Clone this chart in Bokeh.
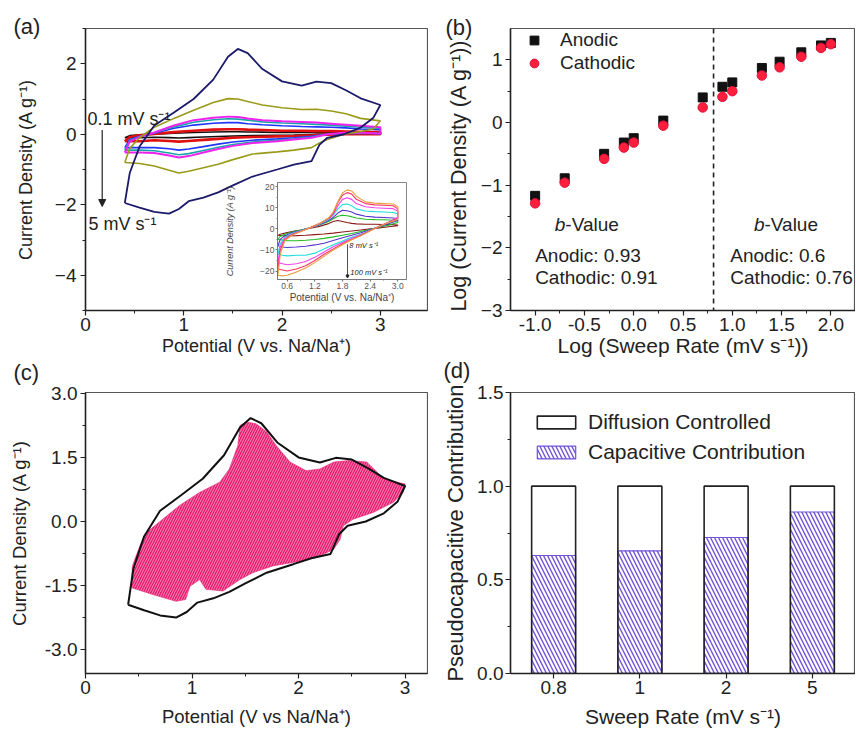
from bokeh.plotting import figure
from bokeh.layouts import row, column
from bokeh.models import (Range1d, FactorRange, FixedTicker, PrintfTickFormatter,
                          Label, Span, Arrow, NormalHead, Legend, LegendItem)
from bokeh.embed import file_html
from bokeh.resources import INLINE

FONT = "Liberation Sans"
INK = "#222222"

# ---------------- (a) CV curves, 0.1 - 5 mV/s ----------------
cv_up_v = [0.4, 0.45, 0.55, 0.7, 0.9, 1.1, 1.3, 1.45, 1.55, 1.65, 1.8, 2.0, 2.2, 2.35, 2.5, 2.65, 2.8, 3.0]
cv_dn_v = [3.0, 2.93, 2.8, 2.63, 2.46, 2.38, 2.3, 2.12, 1.95, 1.7, 1.5, 1.35, 1.2, 1.05, 0.95, 0.85, 0.7, 0.55, 0.4]

cv5_up = [-1.95, -1.1, -0.35, 0.25, 0.62, 1.0, 1.55, 2.2, 2.42, 2.3, 1.85, 1.5, 1.38, 1.49, 1.45, 1.25, 1.02, 0.83]
cv5_dn = [0.83, 0.47, 0.19, 0.0, -0.1, -0.3, -0.76, -0.86, -1.0, -1.2, -1.45, -1.65, -1.8, -1.9, -2.12, -2.25, -2.2, -2.08, -1.95]
cv2_up = [-0.8, -0.4, -0.1, 0.2, 0.45, 0.68, 0.9, 1.01, 1.0, 0.93, 0.83, 0.75, 0.7, 0.71, 0.66, 0.58, 0.45, 0.38]
cv2_dn = [0.38, 0.15, 0.08, 0.0, -0.15, -0.25, -0.38, -0.45, -0.5, -0.56, -0.72, -0.85, -0.95, -1.05, -1.1, -1.02, -0.9, -0.83, -0.8]
cv1_up = [-0.52, -0.2, -0.08, 0.05, 0.25, 0.4, 0.47, 0.5, 0.49, 0.45, 0.4, 0.37, 0.35, 0.33, 0.3, 0.27, 0.24, 0.2]
cv1_dn = [0.02, 0.03, 0.04, 0.04, 0.0, -0.05, -0.1, -0.15, -0.2, -0.25, -0.33, -0.42, -0.52, -0.62, -0.66, -0.6, -0.53, -0.52, -0.52]
cv08_up = [-0.45, -0.18, -0.07, 0.04, 0.21, 0.34, 0.41, 0.44, 0.43, 0.4, 0.35, 0.32, 0.3, 0.28, 0.26, 0.23, 0.2, 0.17]
cv08_dn = [0.02, 0.03, 0.03, 0.03, 0.0, -0.04, -0.08, -0.13, -0.17, -0.22, -0.29, -0.37, -0.46, -0.55, -0.58, -0.53, -0.47, -0.45, -0.45]
cv05_up = [-0.38, -0.15, -0.06, 0.03, 0.17, 0.26, 0.31, 0.33, 0.33, 0.3, 0.27, 0.24, 0.22, 0.21, 0.2, 0.18, 0.15, 0.13]
cv05_dn = [0.01, 0.02, 0.02, 0.02, 0.0, -0.03, -0.06, -0.1, -0.13, -0.17, -0.22, -0.28, -0.35, -0.42, -0.45, -0.41, -0.38, -0.38, -0.38]
cv02_up = [-0.2, -0.08, -0.03, 0.01, 0.06, 0.1, 0.13, 0.14, 0.14, 0.13, 0.12, 0.1, 0.1, 0.09, 0.09, 0.08, 0.07, 0.06]
cv02_dn = [0.0, 0.0, 0.0, 0.0, -0.01, -0.02, -0.03, -0.05, -0.06, -0.08, -0.1, -0.13, -0.16, -0.19, -0.21, -0.19, -0.17, -0.2, -0.2]
cv01_up = [-0.1, -0.04, -0.015, 0.0, 0.03, 0.05, 0.065, 0.07, 0.07, 0.065, 0.06, 0.05, 0.05, 0.045, 0.045, 0.04, 0.035, 0.03]
cv01_dn = [0.0, 0.0, 0.0, 0.0, -0.005, -0.01, -0.015, -0.025, -0.03, -0.04, -0.05, -0.065, -0.08, -0.095, -0.105, -0.095, -0.085, -0.1, -0.1]

# ---------------- inset: 8 - 100 mV/s ----------------
ins_up_v = [0.4, 0.45, 0.55, 0.7, 0.9, 1.1, 1.3, 1.5, 1.6, 1.7, 1.8, 1.9, 2.0, 2.1, 2.3, 2.5, 2.7, 2.9, 3.0]
ins_dn_v = [3.0, 2.8, 2.6, 2.4, 2.2, 2.0, 1.8, 1.6, 1.4, 1.2, 1.0, 0.8, 0.6, 0.5, 0.4]
ins_a_up = [-3, -2.5, -2, -1.2, -0.5, 0.3, 1.2, 2.5, 3.5, 4, 3.5, 3, 2.6, 2.4, 2.2, 2.2, 2.1, 2.0, 1.8]
ins_a_dn = [1.5, 1.0, 0.5, 0, -0.5, -1, -1.5, -2, -2.4, -2.7, -3, -3.2, -3.3, -3.2, -3]
ins_b_up = [-5, -3.5, -2.5, -1.5, -0.5, 0.5, 1.8, 3.5, 4.8, 6, 6.5, 6.2, 5.8, 5.2, 4.6, 4.4, 4.3, 4.1, 3.8]
ins_b_dn = [3, 1.8, 0.8, -0.2, -1.2, -2.2, -3, -3.8, -4.5, -5, -5.4, -5.6, -5.6, -5.3, -5]
ins_c_up = [-8, -5, -3.2, -1.8, -0.7, 0.5, 2, 4, 5.5, 7.5, 8.8, 8.6, 8, 7, 6, 5.6, 5.4, 5.2, 4.8]
ins_c_dn = [4, 2.4, 1.0, -0.4, -1.8, -3, -4.2, -5.5, -6.8, -7.6, -8.2, -8.6, -8.8, -8.6, -8]
ins_d_up = [-12, -7, -4, -2.2, -0.8, 0.6, 2.2, 4.5, 6.5, 9.5, 11.5, 11.8, 11, 9.5, 8.5, 8.2, 8, 7.8, 7.2]
ins_d_dn = [5, 3, 1.2, -0.6, -2.5, -4, -5.8, -7.5, -9.5, -11.5, -12.5, -12.5, -12.8, -12.5, -12]
ins_e_up = [-16, -8.5, -4.5, -2.5, -1, 0.6, 2.4, 4.8, 7, 11, 14, 14.8, 14, 12, 10.5, 10, 9.8, 9.6, 8.5]
ins_e_dn = [5.5, 3.2, 1.3, -0.8, -2.8, -4.5, -6.5, -8.5, -11, -13.5, -15.5, -16.5, -17, -16.5, -16]
ins_f_up = [-19, -10, -5, -2.8, -1.1, 0.6, 2.5, 5, 7.5, 12.5, 16, 17.2, 16.5, 14, 12, 11.4, 11.2, 11, 9.5]
ins_f_dn = [5, 3.2, 1.3, -0.9, -3, -5, -7, -9.5, -12, -15, -17.5, -19, -20, -19.5, -19]
ins_g_up = [-22, -12, -5.5, -3, -1.2, 0.6, 2.6, 5.2, 8, 13, 17, 18.5, 18, 15.5, 12.8, 12.2, 12, 11.8, 10.5]
ins_g_dn = [4.5, 3, 1.2, -1, -3.2, -5.2, -7.5, -10, -13, -16, -18.5, -20.5, -22, -22.3, -22]

# ---------------- (b) log i vs log v ----------------
log_rate = [-1.0, -0.7, -0.3, -0.1, 0.0, 0.3, 0.7, 0.9, 1.0, 1.3, 1.48, 1.7, 1.9, 2.0]
log_anodic = [-1.17, -0.89, -0.50, -0.32, -0.25, 0.03, 0.40, 0.57, 0.64, 0.87, 0.97, 1.12, 1.23, 1.27]
log_cathodic = [-1.29, -0.96, -0.58, -0.40, -0.32, -0.05, 0.24, 0.41, 0.50, 0.75, 0.88, 1.05, 1.19, 1.25]
split_log_rate = 0.81

# ---------------- (c) capacitive region at 5 mV/s ----------------
cap_v = [0.43, 0.44, 0.51, 0.57, 0.69, 0.88, 1.07, 1.26, 1.35, 1.43, 1.45, 1.51, 1.6, 1.70, 1.79,
         1.92, 2.07, 2.20, 2.33, 2.48, 2.64, 2.80, 2.92, 3.0, 2.98, 2.89, 2.70, 2.51, 2.42, 2.39,
         2.33, 2.20, 2.01, 1.76, 1.57, 1.45, 1.29, 1.13, 1.07, 0.98, 0.94, 0.85, 0.63, 0.44]
cap_i = [-1.52, -1.04, -0.57, -0.26, -0.02, 0.37, 0.68, 0.92, 1.23, 1.78, 2.25, 2.33, 2.29, 2.10, 1.78,
         1.39, 1.19, 1.23, 1.39, 1.43, 1.39, 1.0, 0.92, 0.88, 0.68, 0.45, 0.21, 0.05, -0.10, -0.42,
         -0.65, -0.81, -0.93, -1.04, -1.20, -1.36, -1.63, -1.59, -1.36, -1.52, -1.83, -1.87, -1.71, -1.56]

# ---------------- (d) contributions ----------------
rates = ["0.8", "1", "2", "5"]
capacitive = [0.63, 0.655, 0.726, 0.862]
total = [1.0, 1.0, 1.0, 1.0]

# panel tags, page pixels
tag_text = ["(a)", "(b)", "(c)", "(d)"]
tag_x = [13, 445, 13, 443]
tag_y = [26, 27, 372, 370]


def make_fig(width, height, x_range, y_range, left, right, top, bottom, **kw):
    p = figure(width=width, height=height, x_range=x_range, y_range=y_range,
               output_backend="svg", toolbar_location=None,
               min_border_left=left, min_border_right=right,
               min_border_top=top, min_border_bottom=bottom, **kw)
    p.grid.visible = False
    p.outline_line_color = "#555555"
    p.outline_line_width = 1.2
    p.border_fill_color = "white"
    p.background_fill_color = "white"
    for ax in p.axis:
        ax.axis_line_color = INK
        ax.axis_line_width = 1.5
        ax.major_tick_line_color = INK
        ax.minor_tick_line_color = INK
        ax.major_tick_line_width = 1.2
        ax.major_tick_out = 5
        ax.major_tick_in = 0
        ax.minor_tick_out = 3
        ax.minor_tick_in = 0
        ax.major_label_standoff = 2
        ax.major_label_text_font = FONT
        ax.major_label_text_font_size = "19px"
        ax.major_label_text_color = INK
        ax.axis_label_text_font = FONT
        ax.axis_label_text_font_style = "normal"
        ax.axis_label_text_color = INK
    return p


def tag(p, text, x, y, size="22px", **kw):
    p.add_layout(Label(x=x, y=y, text=text, text_font=FONT, text_font_size=size,
                       text_baseline="middle", text_color=INK, **kw))


# ======== (a) ========
pa = make_fig(428, 362, Range1d(0, 3.48), Range1d(-5, 3), 85, 1, 28, 52)
pa.xaxis.ticker = FixedTicker(ticks=[0, 1, 2, 3], minor_ticks=[0.5, 1.5, 2.5, 3.5])
pa.yaxis.ticker = FixedTicker(ticks=[-4, -2, 0, 2], minor_ticks=[-5, -3, -1, 1, 3])
pa.xaxis.axis_label = "Potential (V vs. Na/Na\u207a)"
pa.yaxis.axis_label = "Current Density (A g\u207b\u00b9)"
pa.xaxis.axis_label_text_font_size = "18px"
pa.yaxis.axis_label_text_font_size = "18px"
pa.xaxis.axis_label_standoff = 2
pa.yaxis.axis_label_standoff = 16
pa.yaxis.major_label_standoff = 4

cv_curves = [
    (cv01_up, cv01_dn, "#111111", 1.6),
    (cv02_up, cv02_dn, "#e01010", 2.6),
    (cv05_up, cv05_dn, "#1f35ff", 1.6),
    (cv08_up, cv08_dn, "#1aa6a6", 1.6),
    (cv1_up, cv1_dn, "#ee22ee", 2.0),
    (cv2_up, cv2_dn, "#9a9a18", 1.6),
    (cv5_up, cv5_dn, "#1c1a6a", 1.8),
]
for up, dn, col, w in cv_curves:
    pa.line(cv_up_v + cv_dn_v, up + dn, line_color=col, line_width=w)

tag(pa, "0.1 mV s\u207b\u00b9", 0.02, 0.43, size="18px")
tag(pa, "5 mV s\u207b\u00b9", 0.03, -2.54, size="18px")
pa.add_layout(Arrow(x_start=0.17, y_start=0.12, x_end=0.17, y_end=-2.05,
                    line_color=INK, line_width=1.2,
                    end=NormalHead(size=7, fill_color=INK, line_color=INK)))

# ======== inset ========
pi = make_fig(188, 126, Range1d(0.39, 3.19), Range1d(-24, 22), 50, 4, 3, 23)
pi.border_fill_color = None
pi.outline_line_color = "#888888"
pi.outline_line_width = 1
pi.xaxis.ticker = FixedTicker(ticks=[0.6, 1.2, 1.8, 2.4, 3.0], minor_ticks=[0.9, 1.5, 2.1, 2.7])
pi.yaxis.ticker = FixedTicker(ticks=[-20, -10, 0, 10, 20], minor_ticks=[-15, -5, 5, 15])
pi.xaxis.formatter = PrintfTickFormatter(format="%.1f")
for ax in pi.axis:
    ax.axis_line_color = "#777777"
    ax.axis_line_width = 1
    ax.major_tick_line_color = "#777777"
    ax.minor_tick_line_color = "#777777"
    ax.major_tick_out = 2
    ax.minor_tick_out = 1
    ax.major_label_standoff = 1
    ax.major_label_text_font_size = "8.5px"
    ax.major_label_text_color = "#555555"
    ax.axis_label_text_font_size = "10px"
    ax.axis_label_text_color = "#444444"
pi.xaxis.axis_label = "Potential (V vs. Na/Na\u207a)"
pi.yaxis.axis_label = "Current Density (A g\u207b\u00b9)"
pi.yaxis.axis_label_text_font_style = "italic"
pi.yaxis.axis_label_text_font_size = "9px"
pi.xaxis.axis_label_standoff = 0
pi.yaxis.axis_label_standoff = 22

ins_curves = [
    (ins_a_up, ins_a_dn, "#8b1a1a"),
    (ins_b_up, ins_b_dn, "#22bb22"),
    (ins_c_up, ins_c_dn, "#5533cc"),
    (ins_d_up, ins_d_dn, "#22dddd"),
    (ins_e_up, ins_e_dn, "#ee44ee"),
    (ins_f_up, ins_f_dn, "#ff3366"),
    (ins_g_up, ins_g_dn, "#e8a040"),
]
for up, dn, col in ins_curves:
    pi.line(ins_up_v + ins_dn_v, up + dn, line_color=col, line_width=1.1)
pi.add_layout(Arrow(x_start=1.91, y_start=-7.3, x_end=1.91, y_end=-23.3,
                    line_color=INK, line_width=0.8,
                    end=NormalHead(size=3, fill_color=INK, line_color=INK)))
tag(pi, "8 mV s\u207b\u00b9", 1.95, -8.1, size="7.5px", text_font_style="italic")
tag(pi, "100 mV s\u207b\u00b9", 1.97, -20.8, size="7.5px", text_font_style="italic")
pi.margin = (-183, 0, 57, 222)

# ======== (b) ========
pb = make_fig(427, 362, Range1d(-1.25, 2.25), Range1d(-3, 1.5), 82, 0, 28, 52)
pb.xaxis.ticker = FixedTicker(ticks=[-1.0, -0.5, 0.0, 0.5, 1.0, 1.5, 2.0],
                              minor_ticks=[-0.75, -0.25, 0.25, 0.75, 1.25, 1.75])
pb.yaxis.ticker = FixedTicker(ticks=[-3, -2, -1, 0, 1], minor_ticks=[-2.5, -1.5, -0.5, 0.5])
pb.xaxis.formatter = PrintfTickFormatter(format="%.1f")
pb.xaxis.axis_label = "Log (Sweep Rate (mV s\u207b\u00b9))"
pb.yaxis.axis_label = "Log (Current Density (A g\u207b\u00b9))\u00a0\u00a0"
pb.xaxis.axis_label_text_font_size = "21px"
pb.yaxis.axis_label_text_font_size = "21.5px"
pb.xaxis.axis_label_standoff = 0
pb.yaxis.axis_label_standoff = 7
pb.yaxis.major_label_standoff = 3

pb.add_layout(Span(location=split_log_rate, dimension="height", line_color=INK,
                   line_width=1.6, line_dash="5 4"))
r_an = pb.scatter(log_rate, log_anodic, marker="square", size=9, fill_color="#111111", line_color="#111111")
r_ca = pb.scatter(log_rate, log_cathodic, marker="circle", size=9.5, fill_color="#ff1f3d", line_color="#e0103a")
leg_b = Legend(items=[LegendItem(label="Anodic", renderers=[r_an]),
                      LegendItem(label="Cathodic", renderers=[r_ca])],
               location=(13, 236), glyph_width=22, glyph_height=22, spacing=1, padding=0,
               label_standoff=15, label_text_font=FONT, label_text_font_size="19px",
               label_text_color=INK, border_line_alpha=0, background_fill_alpha=0)
pb.add_layout(leg_b)

for xv, head in [(-0.8, "b"), (1.22, "b")]:
    tag(pb, head, xv, -1.63, size="19px", text_font_style="italic")
    tag(pb, "-Value", xv, -1.63, size="19px", x_offset=10.5)
tag(pb, "Anodic: 0.93", -1.0, -2.13, size="19px")
tag(pb, "Cathodic: 0.91", -1.0, -2.47, size="19px")
tag(pb, "Anodic: 0.6", 0.98, -2.13, size="19px")
tag(pb, "Cathodic: 0.76", 0.98, -2.47, size="19px")

# ======== (c) ========
pc = make_fig(428, 372, Range1d(0, 3.21), Range1d(-3.56, 3.02), 85, 1, 30, 61)
pc.xaxis.ticker = FixedTicker(ticks=[0, 1, 2, 3], minor_ticks=[0.5, 1.5, 2.5])
pc.yaxis.ticker = FixedTicker(ticks=[-3.0, -1.5, 0.0, 1.5, 3.0], minor_ticks=[-2.25, -0.75, 0.75, 2.25])
pc.yaxis.formatter = PrintfTickFormatter(format="%.1f")
pc.xaxis.axis_label = "Potential (V vs Na/Na\u207a)"
pc.yaxis.axis_label = "Current Density (A g\u207b\u00b9)"
pc.xaxis.axis_label_text_font_size = "18.5px"
pc.yaxis.axis_label_text_font_size = "18.5px"
pc.xaxis.axis_label_standoff = 9
pc.yaxis.axis_label_standoff = 12
pc.yaxis.major_label_standoff = 3

pc.patch(cap_v, cap_i, fill_color="#e8196f", line_color="#e8196f", line_width=0.5,
         hatch_pattern="/", hatch_color="white", hatch_alpha=0.5, hatch_scale=5, hatch_weight=1)
pc.line(cv_up_v + cv_dn_v, cv5_up + cv5_dn, line_color="#111111", line_width=2)

# ======== (d) ========
pd = make_fig(427, 372, FactorRange(factors=rates, range_padding=0), Range1d(0, 1.5), 82, 0, 30, 61)
pd.yaxis.ticker = FixedTicker(ticks=[0.0, 0.5, 1.0, 1.5], minor_ticks=[0.25, 0.75, 1.25])
pd.yaxis.formatter = PrintfTickFormatter(format="%.1f")
pd.xaxis.axis_label = "Sweep Rate (mV s\u207b\u00b9)"
pd.yaxis.axis_label = "Pseudocapacitive Contribution"
pd.xaxis.axis_label_text_font_size = "21px"
pd.yaxis.axis_label_text_font_size = "22px"
pd.xaxis.axis_label_standoff = 8
pd.yaxis.axis_label_standoff = 6
pd.yaxis.major_label_standoff = 2

PURPLE = "#7254d8"
r_cap = pd.vbar(x=rates, top=capacitive, width=0.51, fill_color="white", line_color=PURPLE,
                line_width=1.2, hatch_pattern="\\", hatch_color=PURPLE, hatch_scale=8, hatch_weight=1.4)
r_tot = pd.vbar(x=rates, top=total, width=0.51, fill_alpha=0, line_color=INK, line_width=1.6)
leg_d = Legend(items=[LegendItem(label="Diffusion Controlled", renderers=[r_tot]),
                      LegendItem(label="Capacitive Contribution", renderers=[r_cap])],
               location=(22, 209), glyph_width=48, glyph_height=16, spacing=6, padding=0,
               label_standoff=8, label_text_font=FONT, label_text_font_size="21px",
               label_text_color=INK, border_line_alpha=0, background_fill_alpha=0)
pd.add_layout(leg_d)

# ======== panel tags (transparent overlay in page pixels) ========
ov = figure(frame_width=855, frame_height=734, x_range=Range1d(0, 855), y_range=Range1d(734, 0),
            output_backend="svg", toolbar_location=None,
            x_axis_location=None, y_axis_location=None,
            min_border=0, min_border_left=0, min_border_right=0, min_border_top=0, min_border_bottom=0)
ov.grid.visible = False
ov.outline_line_color = None
ov.background_fill_color = None
ov.border_fill_color = None
for text, tx, ty in zip(tag_text, tag_x, tag_y):
    tag(ov, text, tx, ty)
ov.margin = (-734, 0, 0, -55)

layout = column(row(pa, pb), pi, row(pc, pd), ov)
open("out.html", "w").write(file_html(layout, INLINE))
